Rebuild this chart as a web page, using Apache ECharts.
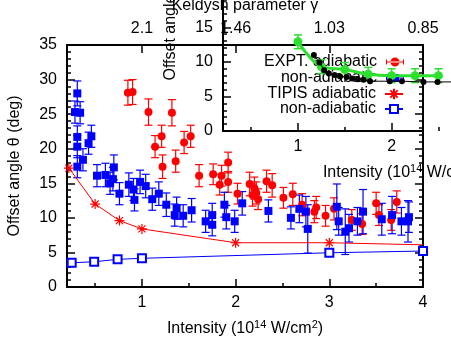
<!DOCTYPE html>
<html>
<head>
<meta charset="utf-8">
<script src="https://cdn.jsdelivr.net/npm/echarts@6/dist/echarts.min.js"></script>
<style>
  html, body { margin: 0; padding: 0; background: #fff; }
  #chart { width: 451px; height: 354px; }
</style>
</head>
<body>
<div id="chart"></div>
<script>
// EXPT. adiabatic (red dots): intensity, offset angle, error
const exptAdiaX = [0.85, 0.90, 1.07, 1.14, 1.21, 1.22, 1.32, 1.36, 1.45, 1.52, 1.61, 1.76, 1.83, 1.85, 1.92, 1.92, 2.02, 2.15, 2.18, 2.20, 2.22, 2.24, 2.33, 2.39, 2.51, 2.61, 2.71, 2.84, 2.86, 2.96, 3.05, 3.24, 3.35, 3.50, 3.53, 3.66, 3.72]
const exptAdiaY = [28.1, 28.2, 25.3, 20.3, 21.8, 17.4, 25.2, 18.2, 20.9, 21.8, 16.1, 16.3, 14.8, 16.1, 18.0, 15.2, 13.5, 14.9, 13.3, 14.3, 13.6, 12.7, 15.3, 14.7, 12.9, 13.4, 11.9, 10.9, 11.5, 10.3, 11.3, 9.7, 9.1, 12.1, 10.4, 9.7, 12.3]
const exptAdiaErr = [1.8, 1.8, 1.9, 1.6, 1.6, 1.7, 1.9, 1.6, 1.6, 1.6, 1.6, 1.5, 1.5, 1.5, 1.5, 1.5, 1.5, 1.7, 1.6, 1.6, 1.6, 1.5, 1.6, 1.7, 1.5, 1.6, 1.6, 1.6, 1.6, 1.5, 1.6, 1.5, 1.5, 1.6, 1.5, 1.5, 1.6]

// EXPT. non-adiabatic (blue squares)
const exptNonX = [0.31, 0.285, 0.34, 0.31, 0.46, 0.43, 0.31, 0.37, 0.31, 0.52, 0.61, 0.70, 0.66, 0.69, 0.76, 0.86, 0.91, 0.98, 1.04, 0.92, 1.11, 1.18, 1.26, 1.35, 1.37, 1.44, 1.53, 1.68, 1.75, 1.75, 1.88, 1.90, 1.99, 2.07, 2.35, 2.59, 2.68, 2.75, 2.77, 3.08, 3.10, 3.17, 3.21, 3.30, 3.36, 3.56, 3.67, 3.77, 3.84, 3.85]
const exptNonY = [28.0, 25.3, 25.2, 21.7, 21.8, 20.8, 20.3, 18.4, 17.4, 16.1, 16.2, 17.3, 15.0, 15.6, 13.5, 14.8, 14.1, 15.2, 14.6, 12.6, 12.7, 13.5, 11.9, 10.4, 11.4, 10.3, 11.1, 9.5, 10.4, 9.0, 11.9, 10.1, 9.5, 12.1, 11.0, 10.0, 11.3, 10.9, 8.4, 11.6, 9.5, 8.0, 8.5, 9.5, 10.9, 9.8, 10.4, 9.5, 9.5, 10.1]
const exptNonErr = [1.8, 1.6, 1.6, 1.6, 1.6, 1.6, 1.6, 1.6, 1.6, 1.6, 1.7, 1.8, 1.6, 1.7, 1.6, 1.7, 1.6, 1.7, 1.7, 1.6, 1.6, 1.7, 1.7, 1.6, 1.6, 1.6, 1.7, 1.6, 1.7, 1.6, 1.8, 1.7, 1.6, 1.7, 1.6, 1.6, 2.0, 2.2, 3.5, 3.3, 2.0, 3.3, 2.0, 2.0, 3.2, 2.3, 2.7, 2.0, 3.0, 2.2]

// TIPIS adiabatic (red stars) and non-adiabatic (blue open squares)
const tipisAdiaX = [0.22, 0.5, 0.76, 1.0, 2.0, 3.0, 4.0]
const tipisAdiaY = [17.2, 12.0, 9.6, 8.4, 6.4, 6.4, 6.1]
const tipisNonX = [0.25, 0.49, 0.74, 1.0, 3.0, 4.0]
const tipisNonY = [3.5, 3.65, 4.0, 4.15, 4.95, 5.2]

// inset: green curve with error bars, black dots
const insetGreenX = [1.0, 1.25, 1.5, 1.75, 2.0, 2.25, 2.5]
const insetGreenY = [12.9, 9.3, 8.9, 8.2, 8.0, 8.0, 8.0]
const insetGreenErr = [1.0, 1.0, 1.0, 1.0, 1.0, 1.0, 1.0]
const insetBlackX = [1.17, 1.23, 1.28, 1.33, 1.39, 1.45, 1.52, 1.58, 1.64, 1.70, 1.77, 1.98, 2.11, 2.34, 2.49, 2.75]
const insetBlackY = [11.0, 9.9, 8.8, 8.3, 8.1, 7.9, 7.8, 7.6, 7.5, 7.4, 7.2, 7.2, 7.2, 7.1, 7.1, 7.1]

// axes
const majorTicks = [1, 2, 3, 4]
const minorTicks = [0.5, 1.5, 2.5, 3.5]
const keldyshTicks = [1, 2, 3, 4]
const keldyshLabels = ['2.1', '1.46', '1.03', '0.85']
const legendNames = ['EXPT. adiabatic', 'non-adiabatic', 'TIPIS adiabatic', 'non-adiabatic ']

const FONT = '"Liberation Sans", Arial, sans-serif'
const RED = '#ff0000'
const BLUE = '#0000ff'
const GREEN = '#2ee02e'
const STAR = 'path://M0 5L10 5M5 0L5 10M1.5 1.5L8.5 8.5M1.5 8.5L8.5 1.5'

const zip2 = (xs, ys) => xs.map((x, i) => [x, ys[i]])
const zip3 = (xs, ys, es) => xs.map((x, i) => [x, ys[i], es[i]])

function errorBars (color, width) {
  return function (params, api) {
    const x = api.value(0)
    const y = api.value(1)
    const e = api.value(2)
    const hi = api.coord([x, y + e])
    const lo = api.coord([x, y - e])
    const style = { stroke: color, lineWidth: width }
    return {
      type: 'group',
      children: [
        { type: 'line', shape: { x1: hi[0], y1: hi[1], x2: lo[0], y2: lo[1] }, style },
        { type: 'line', shape: { x1: hi[0] - 4, y1: hi[1], x2: hi[0] + 4, y2: hi[1] }, style },
        { type: 'line', shape: { x1: lo[0] - 4, y1: lo[1], x2: lo[0] + 4, y2: lo[1] }, style }
      ]
    }
  }
}

const lineStyle = { color: '#000', width: 2 }
const tickStyle = { color: '#000', width: 1.5 }
const labelStyle = { color: '#000', fontSize: 16, fontFamily: FONT }
const nameStyle = {
  color: '#000',
  fontSize: 16,
  fontFamily: FONT,
  rich: { sup: { fontSize: 11, fontFamily: FONT, padding: [0, 0, 8, 0] } }
}

function xAxisOf (grid, opts) {
  return Object.assign({
    gridIndex: grid,
    type: 'value',
    min: 0.2,
    max: 4,
    position: 'bottom',
    axisLine: { show: false, onZero: false, lineStyle },
    axisTick: { show: false },
    axisLabel: { show: false },
    splitLine: { show: false }
  }, opts)
}

function yAxisOf (grid, opts) {
  return Object.assign({
    gridIndex: grid,
    type: 'value',
    min: 0,
    max: 35,
    interval: 5,
    position: 'left',
    axisLine: { show: true, onZero: false, lineStyle },
    axisTick: { show: true, inside: true, length: 8, lineStyle: tickStyle },
    minorTick: { show: true, splitNumber: 5, length: 4, lineStyle: tickStyle },
    axisLabel: { show: true, margin: 10, ...labelStyle },
    splitLine: { show: false }
  }, opts)
}

const xName = 'Intensity (10{sup|14} W/cm{sup|2})'
const yName = 'Offset angle θ (deg)'

// legend icons for the error-bar samples (36 x 18 units); line series draw their own
const capL = 'M0 4h2v10h-2Z'
const capR = 'M34 4h2v10h-2Z'
const hbar = 'M0 8.2h36v1.6h-36Z'
const legendIcons = [
  'path://' + capL + capR + hbar + 'M9 9a9 9 0 1 0 18 0a9 9 0 1 0 -18 0Z',
  'path://' + capL + capR + hbar + 'M10 1h16v16h-16Z',
  'inherit',
  'inherit'
]
const legendIconHeights = [9, 9, 13, 10]
const legendTops = [54, 70, 86, 101]

const option = {
  animation: false,
  backgroundColor: '#fff',
  textStyle: { fontFamily: FONT },
  grid: [
    { left: 67, top: 45, width: 356, height: 242, outerBoundsMode: 'none' },
    { left: 223, top: -111, width: 356, height: 242, outerBoundsMode: 'none' },
    { left: 223, top: -111, width: 200, height: 242, outerBoundsMode: 'none' }
  ],
  legend: legendNames.map((n, i) => ({
    data: [{ name: n, icon: legendIcons[i] }],
    right: 47,
    top: legendTops[i],
    align: 'right',
    orient: 'horizontal',
    padding: 0,
    itemWidth: 18,
    itemHeight: legendIconHeights[i],
    selectedMode: false,
    z: 1,
    formatter: name => name.trim(),
    textStyle: { ...labelStyle, padding: [0, 4, 0, 0] }
  })),
  xAxis: [
    xAxisOf(0, {
      axisLine: { show: true, onZero: false, lineStyle },
      axisTick: { show: true, inside: true, length: 8, customValues: majorTicks, lineStyle: tickStyle },
      axisLabel: { show: true, margin: 8, customValues: majorTicks, ...labelStyle },
      name: xName,
      nameLocation: 'middle',
      nameGap: 32,
      nameTextStyle: nameStyle
    }),
    xAxisOf(0, {
      axisTick: { show: true, inside: true, length: 4, customValues: minorTicks, lineStyle: tickStyle }
    }),
    xAxisOf(0, {
      position: 'top',
      axisLine: { show: true, onZero: false, lineStyle },
      axisTick: { show: true, inside: true, length: 8, customValues: keldyshTicks, lineStyle: tickStyle },
      axisLabel: {
        show: true,
        margin: 8,
        customValues: keldyshTicks,
        formatter: v => keldyshLabels[keldyshTicks.indexOf(v)],
        ...labelStyle
      },
      name: 'Keldysh parameter γ',
      nameLocation: 'middle',
      nameGap: 31,
      nameTextStyle: { ...labelStyle }
    }),
    xAxisOf(1, {
      axisTick: { show: true, inside: true, length: 8, customValues: majorTicks, lineStyle: tickStyle },
      axisLabel: { show: true, margin: 8, customValues: majorTicks, ...labelStyle },
      name: xName,
      nameLocation: 'middle',
      nameGap: 32,
      nameTextStyle: nameStyle
    }),
    xAxisOf(1, {
      axisTick: { show: true, inside: true, length: 4, customValues: minorTicks, lineStyle: tickStyle }
    }),
    xAxisOf(2, {
      axisLine: { show: true, onZero: false, lineStyle }
    })
  ],
  yAxis: [
    yAxisOf(0, {
      name: yName,
      nameLocation: 'middle',
      nameGap: 44,
      nameTextStyle: { ...labelStyle }
    }),
    yAxisOf(0, { position: 'right', axisLabel: { show: false } }),
    yAxisOf(1, {
      name: yName,
      nameLocation: 'middle',
      nameGap: 44,
      nameTextStyle: { ...labelStyle }
    }),
    yAxisOf(2, { show: false })
  ],
  series: [
    {
      type: 'custom',
      xAxisIndex: 0,
      yAxisIndex: 0,
      renderItem: errorBars(RED, 1.2),
      encode: { x: 0, y: 1 },
      data: zip3(exptAdiaX, exptAdiaY, exptAdiaErr),
      silent: true
    },
    {
      name: legendNames[0],
      type: 'scatter',
      xAxisIndex: 0,
      yAxisIndex: 0,
      symbol: 'circle',
      symbolSize: 8,
      itemStyle: { color: RED, opacity: 1 },
      data: zip2(exptAdiaX, exptAdiaY)
    },
    {
      type: 'custom',
      xAxisIndex: 0,
      yAxisIndex: 0,
      renderItem: errorBars(BLUE, 1.2),
      encode: { x: 0, y: 1 },
      data: zip3(exptNonX, exptNonY, exptNonErr),
      silent: true
    },
    {
      name: legendNames[1],
      type: 'scatter',
      xAxisIndex: 0,
      yAxisIndex: 0,
      symbol: 'rect',
      symbolSize: 8,
      itemStyle: { color: BLUE, opacity: 1 },
      data: zip2(exptNonX, exptNonY)
    },
    {
      name: legendNames[2],
      type: 'line',
      xAxisIndex: 0,
      yAxisIndex: 0,
      symbol: STAR,
      symbolSize: 10,
      showAllSymbol: true,
      itemStyle: { color: RED, borderColor: RED, borderWidth: 1.2 },
      lineStyle: { color: RED, width: 1 },
      // the last point only carries the line to the border
      data: zip2(tipisAdiaX, tipisAdiaY).map((d, i, a) => i === a.length - 1 ? { value: d, symbol: 'none' } : d)
    },
    {
      name: legendNames[3],
      type: 'line',
      xAxisIndex: 0,
      yAxisIndex: 0,
      symbol: 'emptyRect',
      symbolSize: 8,
      showAllSymbol: true,
      itemStyle: { color: BLUE, borderColor: BLUE, borderWidth: 1.2 },
      lineStyle: { color: BLUE, width: 1 },
      data: zip2(tipisNonX, tipisNonY)
    },
    {
      type: 'custom',
      xAxisIndex: 3,
      yAxisIndex: 2,
      renderItem: errorBars(GREEN, 1.5),
      encode: { x: 0, y: 1 },
      data: zip3(insetGreenX, insetGreenY, insetGreenErr),
      z: 5,
      silent: true
    },
    {
      type: 'line',
      xAxisIndex: 3,
      yAxisIndex: 2,
      smooth: 0.35,
      symbol: 'circle',
      symbolSize: 9,
      showAllSymbol: true,
      itemStyle: { color: GREEN },
      lineStyle: { color: GREEN, width: 3 },
      data: zip2(insetGreenX, insetGreenY),
      z: 5
    },
    {
      type: 'line',
      xAxisIndex: 3,
      yAxisIndex: 2,
      symbol: 'circle',
      symbolSize: 6,
      showAllSymbol: true,
      itemStyle: { color: '#000' },
      lineStyle: { color: '#000', width: 1 },
      data: zip2(insetBlackX, insetBlackY),
      z: 6
    }
  ]
}

const chart = echarts.init(document.getElementById('chart'), null, { renderer: 'canvas' })
chart.setOption(option)
</script>
</body>
</html>
